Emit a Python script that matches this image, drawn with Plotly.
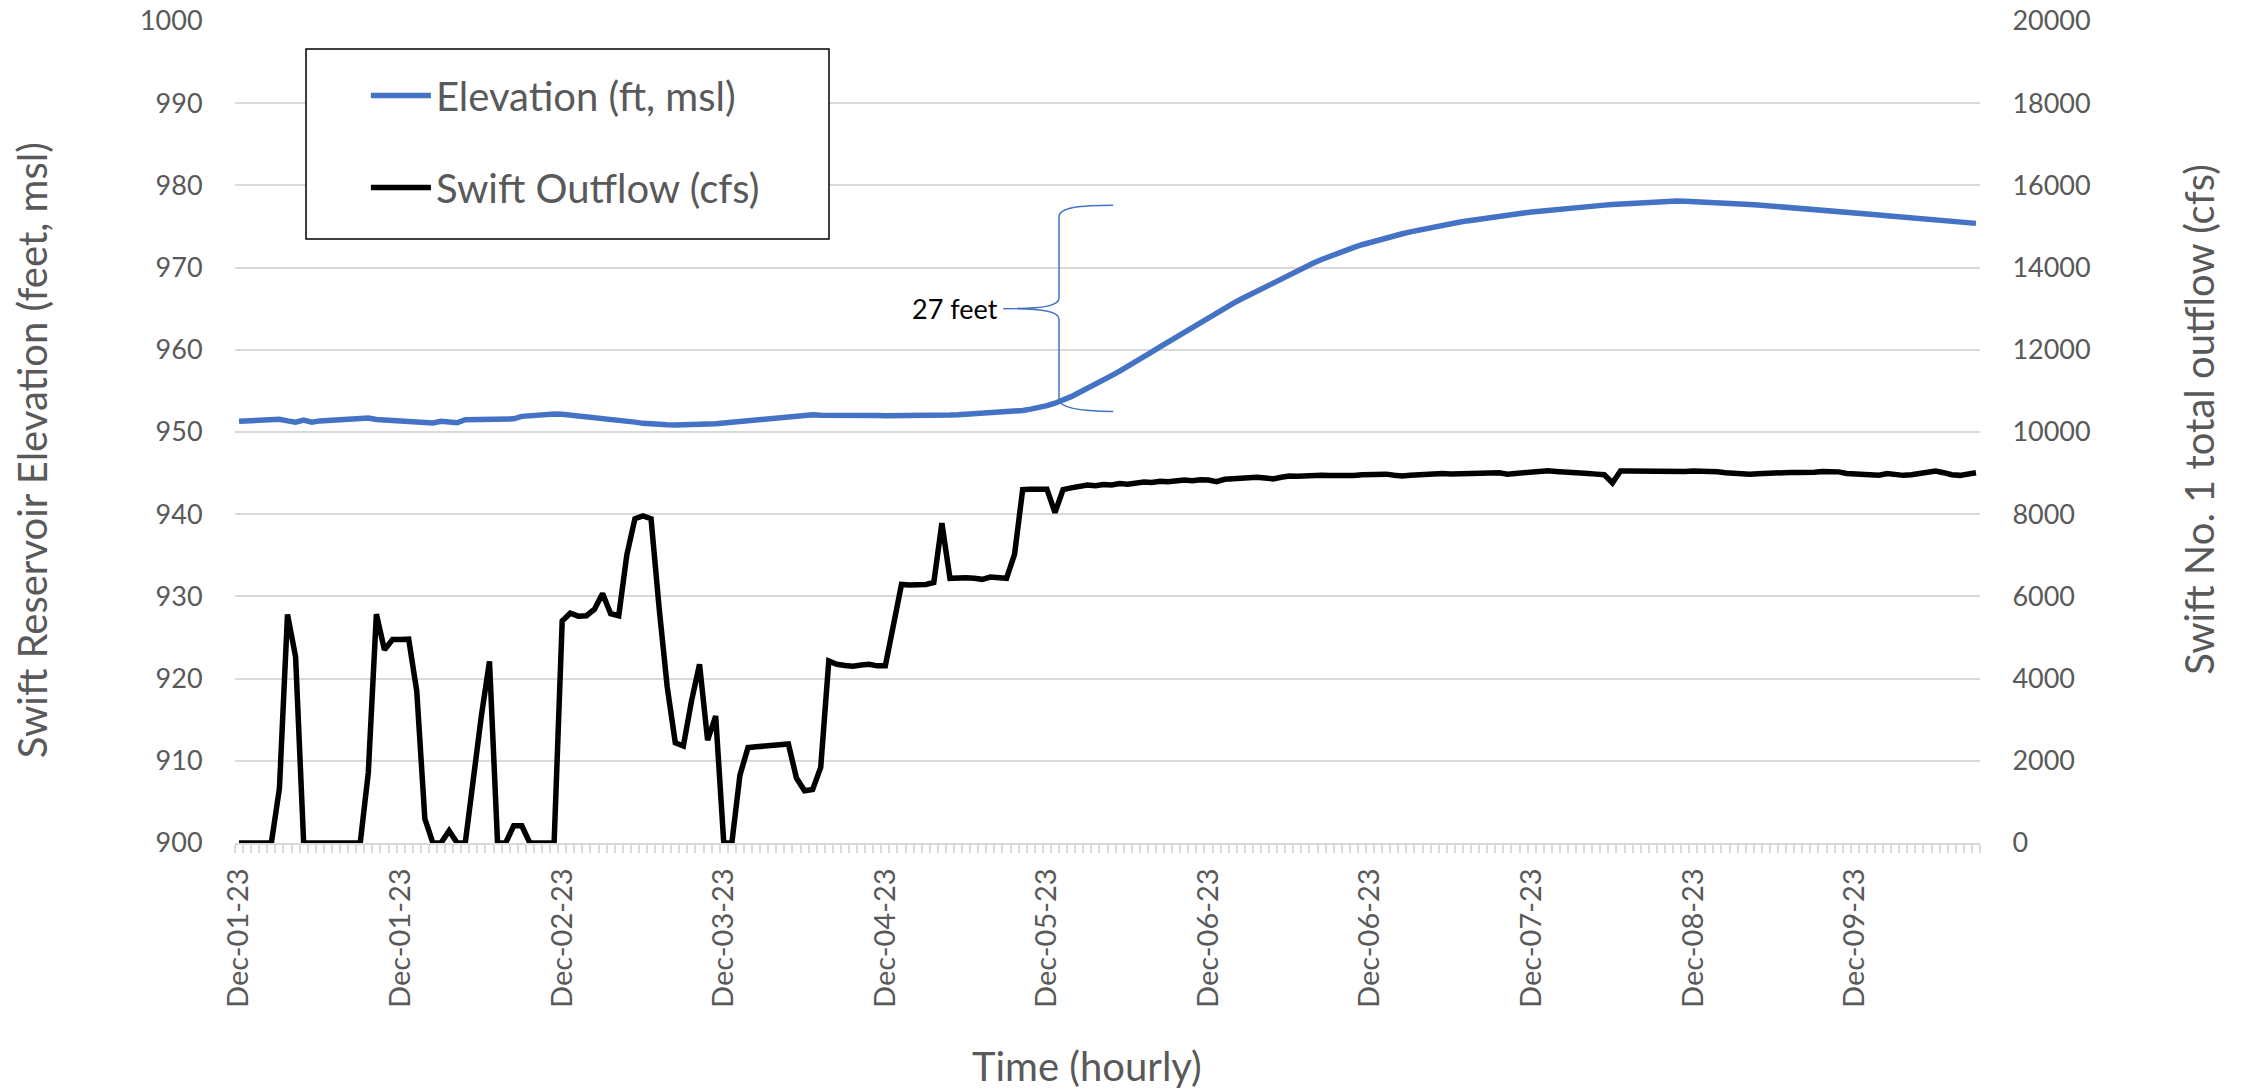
import plotly.graph_objects as go

# Hourly record, Dec 1 00:00 through Dec 9 23:00 (216 hours)
elevation_ft = [
    951.30, 951.32, 951.35, 951.40, 951.45, 951.55, 951.35, 951.20, 951.45, 951.20,
    951.35, 951.40, 951.42, 951.48, 951.52, 951.60, 951.70, 951.52, 951.45, 951.40,
    951.30, 951.22, 951.12, 951.08, 951.10, 951.30, 951.20, 951.12, 951.50, 951.52,
    951.55, 951.55, 951.58, 951.58, 951.60, 951.90, 952.00, 952.08, 952.15, 952.18,
    952.15, 952.05, 951.95, 951.88, 951.82, 951.72, 951.65, 951.55, 951.40, 951.20,
    951.05, 950.95, 950.90, 950.88, 950.85, 950.85, 950.88, 950.90, 950.95, 951.00,
    951.10, 951.20, 951.25, 951.40, 951.48, 951.55, 951.62, 951.70, 951.78, 951.85,
    951.95, 952.10, 952.05, 952.02, 952.00, 952.02, 952.03, 952.00, 952.02, 952.00,
    951.98, 951.97, 951.96, 951.95, 951.95, 951.96, 951.98, 952.02, 952.06, 952.10,
    952.15, 952.20, 952.25, 952.32, 952.38, 952.45, 952.50, 952.62, 952.78, 952.95,
    953.20, 953.50, 953.85, 954.30, 954.80, 955.28, 955.75, 956.28, 956.85, 957.40,
    957.95, 958.55, 959.15, 959.75, 960.35, 960.95, 961.55, 962.15, 962.75, 963.35,
    963.92, 964.50, 965.08, 965.62, 966.15, 966.65, 967.20, 967.70, 968.20, 968.70,
    969.18, 969.65, 970.10, 970.55, 970.98, 971.38, 971.75, 972.10, 972.45, 972.78,
    973.08, 973.35, 973.62, 973.88, 974.12, 974.35, 974.57, 974.78, 974.98, 975.16,
    975.34, 975.52, 975.68, 975.84, 975.99, 976.13, 976.27, 976.40, 976.52, 976.64,
    976.76, 976.87, 976.97, 977.07, 977.17, 977.26, 977.35, 977.44, 977.52, 977.60,
    977.68, 977.75, 977.82, 977.88, 977.94, 977.99, 978.03, 978.07, 978.10, 978.08,
    978.05, 978.01, 977.96, 977.91, 977.86, 977.80, 977.74, 977.68, 977.62, 977.55,
    977.44, 977.36, 977.28, 977.20, 977.12, 977.04, 976.96, 976.88, 976.80, 976.72,
    976.64, 976.56, 976.48, 976.40, 976.31, 976.22, 976.14, 976.06, 975.98, 975.90,
    975.82, 975.74, 975.66, 975.57, 975.47, 975.38,
]

outflow_cfs = [
    0, 0, 0, 0, 0, 1330, 5560, 4530, 0, 0,
    0, 0, 0, 0, 0, 0, 1710, 5570, 4700, 4950,
    4950, 4960, 3690, 590, 0, 0, 300, 0, 0, 1620,
    3100, 4420, 0, 0, 420, 420, 0, 0, 0, 0,
    5400, 5590, 5520, 5530, 5690, 6070, 5580, 5530, 7010, 7890,
    7960, 7890, 5720, 3800, 2440, 2360, 3450, 4350, 2500, 3090,
    0, 0, 1650, 2320, 2340, 2360, 2400, 2390, 2410, 1580,
    1270, 1300, 1840, 4430, 4350, 4320, 4300, 4330, 4350, 4310,
    4310, 5300, 6290, 6280, 6280, 6290, 6340, 7780, 6440, 6455,
    6455, 6440, 6415, 6470, 6455, 6440, 7030, 8600, 8610, 8605,
    8610, 8040, 8600, 8640, 8690, 8710, 8690, 8720, 8710, 8745,
    8730, 8760, 8785, 8770, 8800, 8790, 8810, 8830, 8815, 8840,
    8830, 8790, 8850, 8870, 8890, 8905, 8900, 8880, 8860, 8900,
    8930, 8925, 8940, 8945, 8950, 8940, 8930, 8920, 8940, 8960,
    8975, 8990, 8975, 8950, 8930, 8945, 8960, 8975, 8985, 8990,
    8980, 8985, 9000, 9010, 9020, 9030, 9010, 8975, 8990, 9010,
    9030, 9050, 9055, 9040, 9020, 9010, 9000, 8990, 8975, 8960,
    8760, 9050, 9050, 9045, 9040, 9035, 9040, 9045, 9030, 9040,
    9050, 9055, 9050, 9035, 9010, 8990, 8975, 8970, 8985, 9000,
    9005, 9010, 9015, 9012, 9010, 9020, 9040, 9050, 9030, 8990,
    8975, 8985, 8970, 8950, 8990, 8960, 8945, 8960, 8990, 9030,
    9050, 9010, 8960, 8945, 8990, 9010,
]

# Category labels shown every 20 hours
label_hours = [0, 20, 40, 60, 80, 100, 120, 140, 160, 180, 200]
label_text = [
    "Dec-01-23", "Dec-01-23", "Dec-02-23", "Dec-03-23", "Dec-04-23", "Dec-05-23",
    "Dec-06-23", "Dec-06-23", "Dec-07-23", "Dec-08-23", "Dec-09-23",
]

hours = list(range(len(outflow_cfs)))

FONT = "Lato"
GRAY = "#595959"
GRID = "#D9D9D9"
BLUE = "#4472C4"

fig = go.Figure()
fig.add_trace(go.Scatter(
    x=hours, y=elevation_ft, name="Elevation (ft, msl)", mode="lines",
    line=dict(color=BLUE, width=5.5), legendgroup="a", yaxis="y",
))
fig.add_trace(go.Scatter(
    x=hours, y=outflow_cfs, name="Swift Outflow (cfs)", mode="lines",
    line=dict(color="#000000", width=5.5), legendgroup="b", yaxis="y2",
))

fig.update_layout(
    width=2252, height=1090,
    margin=dict(l=235, r=272, t=21, b=247, autoexpand=False),
    paper_bgcolor="white", plot_bgcolor="white",
    font=dict(family=FONT, color=GRAY, size=27),
    xaxis=dict(
        range=[-0.5, len(hours) - 0.5], automargin=False,
        tickmode="array", tickvals=label_hours, ticktext=label_text,
        tickangle=-90, tickfont=dict(size=29, color=GRAY),
        ticks="outside", ticklen=12, tickcolor="rgba(0,0,0,0)",
        showgrid=False, zeroline=False,
        showline=True, linecolor=GRID, linewidth=1.5,
        minor=dict(ticks="outside", tick0=-0.5, dtick=1, ticklen=8,
                   tickcolor=GRID, tickwidth=1.5, showgrid=False),
    ),
    yaxis=dict(
        range=[900, 1000], dtick=10, tick0=900, automargin=False,
        showgrid=True, gridcolor=GRID, gridwidth=1.5, zeroline=False,
        ticks="outside", ticklen=26, tickcolor="rgba(0,0,0,0)",
        tickfont=dict(size=27, color=GRAY),
    ),
    yaxis2=dict(
        range=[0, 20000], dtick=2000, tick0=0, overlaying="y", side="right",
        automargin=False, tickformat="d",
        showgrid=False, zeroline=False,
        ticks="outside", ticklen=26, tickcolor="rgba(0,0,0,0)",
        tickfont=dict(size=27, color=GRAY),
    ),
    showlegend=True,
    legend=dict(
        x=0.075, y=0.949, xanchor="left", yanchor="top",
        bgcolor="rgba(0,0,0,0)", borderwidth=0,
        font=dict(size=40, color=GRAY), tracegroupgap=37,
        itemwidth=60,
    ),
)

# Legend frame
fig.add_shape(type="rect", xref="paper", yref="paper",
              x0=0.0407, x1=0.3404, y0=0.7348, y1=0.966,
              line=dict(color="#000000", width=1.5), fillcolor="white", layer="above")

# Curly brace marking the reservoir rise
brace = ("M 108.2,977.6 C 104,977.6 101.5,977.3 101.5,976.2 L 101.5,966.3 "
         "C 101.5,965.4 100,965.0 94.6,965.0 C 100,965.0 101.5,964.6 101.5,963.7 "
         "L 101.5,954.0 C 101.5,952.9 104,952.5 108.2,952.5")
fig.add_shape(type="path", path=brace, xref="x", yref="y",
              line=dict(color=BLUE, width=1.5), layer="above")
fig.add_annotation(x=94.6, y=965.0, xref="x", yref="y", text="27 feet",
                   showarrow=False, xanchor="right", yanchor="middle", xshift=-3,
                   font=dict(family=FONT, size=27, color="#000000"))

# Axis titles
fig.add_annotation(x=-0.1163, y=0.478, xref="paper", yref="paper",
                   text="Swift Reservoir Elevation (feet, msl)", textangle=-90,
                   showarrow=False, xanchor="center", yanchor="middle",
                   font=dict(family=FONT, size=40, color=GRAY))
fig.add_annotation(x=1.1255, y=0.516, xref="paper", yref="paper",
                   text="Swift No. 1 total outflow (cfs)", textangle=-90,
                   showarrow=False, xanchor="center", yanchor="middle",
                   font=dict(family=FONT, size=40, color=GRAY))
fig.add_annotation(x=0.4883, y=-0.2713, xref="paper", yref="paper",
                   text="Time (hourly)", showarrow=False,
                   xanchor="center", yanchor="middle",
                   font=dict(family=FONT, size=40, color=GRAY))

fig.write_html("out.html")
